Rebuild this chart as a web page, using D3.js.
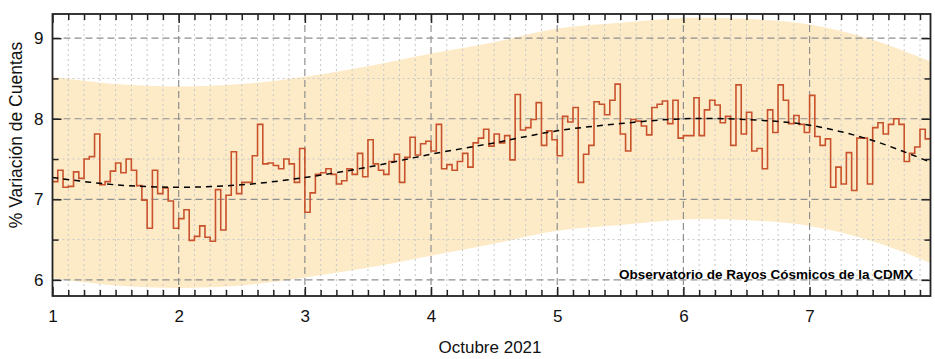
<!DOCTYPE html>
<html>
<head>
<meta charset="utf-8">
<script src="https://cdn.jsdelivr.net/npm/d3@7"></script>
<style>
  html, body { margin: 0; padding: 0; background: #fff; }
  svg { display: block; font-family: "Liberation Sans", Arial, sans-serif; }
</style>
</head>
<body>
<svg id="chart" width="935" height="359"></svg>
<script>
// ---- Data ----
const startDay = 1;            // Octubre 1, 00:00
const hoursPerDay = 24;
// hourly % variation of counts
const counts = [
  7.22,7.36,7.15,7.16,7.34,7.26,7.50,7.53,7.81,7.18,7.22,7.35,7.45,7.33,7.50,7.36,7.17,6.99,6.64,7.36,7.07,7.14,6.98,6.64,
  6.76,6.87,6.49,6.54,6.67,6.53,6.48,7.12,6.62,7.05,7.59,7.07,7.21,7.21,7.54,7.93,7.44,7.45,7.42,7.38,7.50,7.44,7.21,7.63,
  6.84,7.08,7.31,7.33,7.38,7.31,7.19,7.23,7.38,7.31,7.57,7.28,7.74,7.44,7.36,7.31,7.47,7.56,7.21,7.52,7.77,7.55,7.69,7.72,
  7.60,7.93,7.38,7.43,7.36,7.47,7.57,7.40,7.70,7.76,7.87,7.66,7.81,7.70,7.79,7.49,8.30,7.86,7.89,7.99,8.20,7.67,7.85,7.74,
  7.54,8.03,7.96,8.14,7.21,7.56,7.67,8.21,8.18,8.05,8.23,8.43,7.81,7.60,7.99,7.97,7.91,7.80,8.14,8.18,8.22,7.94,8.23,7.76,
  7.79,7.79,8.26,7.79,8.11,8.23,8.17,7.95,8.03,7.67,8.42,7.81,8.08,7.60,7.63,7.38,8.11,7.83,8.42,8.23,7.94,8.04,7.93,7.83,
  8.29,7.78,7.67,7.75,7.15,7.40,7.19,7.58,7.11,7.76,7.76,7.19,7.89,7.95,7.81,7.93,8.00,7.93,7.47,7.57,7.65,7.87,7.75,7.75
];
// smooth fit (dashed) and its band
const fitDays = [1, 1.5, 2, 2.5, 3, 3.5, 4, 4.5, 5, 5.5, 6, 6.5, 7, 7.5, 7.9583];
const fitValues = [7.27, 7.18, 7.15, 7.18, 7.27, 7.40, 7.56, 7.70, 7.85, 7.94, 8.00, 7.99, 7.92, 7.73, 7.46];
const bandUpper = [8.52, 8.43, 8.40, 8.43, 8.52, 8.65, 8.81, 8.95, 9.12, 9.19, 9.25, 9.24, 9.17, 8.98, 8.71];
const bandLower = [6.02, 5.93, 5.90, 5.93, 6.03, 6.15, 6.30, 6.45, 6.61, 6.68, 6.75, 6.74, 6.67, 6.48, 6.21];
const xTicks = [1, 2, 3, 4, 5, 6, 7];
const yTicks = [6, 7, 8, 9];
const xLabel = "Octubre 2021";
const yLabel = "% Variación de Cuentas";
const note = "Observatorio de Rayos Cósmicos de la CDMX";

// ---- Layout ----
const svg = d3.select("#chart");
const L = 52.5, R = 930.5, T = 14, B = 296;
const xEnd = startDay + (counts.length - 1) / hoursPerDay;
const x = d3.scaleLinear().domain([startDay, xEnd]).range([L, R]);
const y = d3.scaleLinear().domain([5.8, 9.3]).range([B, T]);

svg.append("defs").append("clipPath").attr("id", "clip")
  .append("rect").attr("x", L).attr("y", T).attr("width", R - L).attr("height", B - T);

const plot = svg.append("g").attr("clip-path", "url(#clip)");

// band
const bandData = fitDays.map((d, i) => ({ d, u: bandUpper[i], l: bandLower[i] }));
plot.append("path").datum(bandData)
  .attr("fill", "#fdebc8")
  .attr("d", d3.area().curve(d3.curveCatmullRom)
    .x(p => x(p.d)).y0(p => y(p.l)).y1(p => y(p.u)));

// minor grid
const minorX = d3.range(startDay * 8, Math.floor(xEnd * 8) + 1).map(v => v / 8).filter(v => v % 1 !== 0);
const minorY = [6.5, 7.5, 8.5];
const grid = plot.append("g");
grid.selectAll(".mx").data(minorX).join("line")
  .attr("x1", d => x(d)).attr("x2", d => x(d)).attr("y1", T).attr("y2", B)
  .attr("stroke", "#c8c8c8").attr("stroke-width", 1).attr("stroke-dasharray", "2,3");
grid.selectAll(".my").data(minorY).join("line")
  .attr("x1", L).attr("x2", R).attr("y1", d => y(d)).attr("y2", d => y(d))
  .attr("stroke", "#c8c8c8").attr("stroke-width", 1).attr("stroke-dasharray", "2,3");
// major grid
grid.selectAll(".Mx").data(xTicks.filter(d => d > startDay)).join("line")
  .attr("x1", d => x(d)).attr("x2", d => x(d)).attr("y1", T).attr("y2", B)
  .attr("stroke", "#8f8f8f").attr("stroke-width", 1.2).attr("stroke-dasharray", "7,4");
grid.selectAll(".My").data(yTicks).join("line")
  .attr("x1", L).attr("x2", R).attr("y1", d => y(d)).attr("y2", d => y(d))
  .attr("stroke", "#8f8f8f").attr("stroke-width", 1.2).attr("stroke-dasharray", "7,4");

// step series
const pts = counts.map((v, i) => [startDay + i / hoursPerDay, v]);
pts.push([startDay + counts.length / hoursPerDay, counts[counts.length - 1]]);
plot.append("path").datum(pts)
  .attr("fill", "none").attr("stroke", "#c8522c").attr("stroke-width", 1.6)
  .attr("d", d3.line().curve(d3.curveStepAfter).x(p => x(p[0])).y(p => y(p[1])));

// fit
plot.append("path").datum(fitDays.map((d, i) => [d, fitValues[i]]))
  .attr("fill", "none").attr("stroke", "#000").attr("stroke-width", 1.5)
  .attr("stroke-dasharray", "6,5")
  .attr("d", d3.line().curve(d3.curveCatmullRom).x(p => x(p[0])).y(p => y(p[1])));

// axes with inside ticks
const fmt = d3.format("d");
const axB = svg.append("g").attr("transform", `translate(0,${B})`)
  .call(d3.axisBottom(x).tickValues(xTicks).tickFormat(fmt).tickSize(-9).tickPadding(14));
const axBm = svg.append("g").attr("transform", `translate(0,${B})`)
  .call(d3.axisBottom(x).tickValues(minorX).tickFormat("").tickSize(-6));
const axT = svg.append("g").attr("transform", `translate(0,${T})`)
  .call(d3.axisTop(x).tickValues(xTicks).tickFormat("").tickSize(-9));
const axTm = svg.append("g").attr("transform", `translate(0,${T})`)
  .call(d3.axisTop(x).tickValues(minorX).tickFormat("").tickSize(-6));
const axL = svg.append("g").attr("transform", `translate(${L},0)`)
  .call(d3.axisLeft(y).tickValues(yTicks).tickFormat(fmt).tickSize(-9).tickPadding(9));
const axLm = svg.append("g").attr("transform", `translate(${L},0)`)
  .call(d3.axisLeft(y).tickValues(minorY).tickFormat("").tickSize(-6));
const axR = svg.append("g").attr("transform", `translate(${R},0)`)
  .call(d3.axisRight(y).tickValues(yTicks).tickFormat("").tickSize(-9));
const axRm = svg.append("g").attr("transform", `translate(${R},0)`)
  .call(d3.axisRight(y).tickValues(minorY).tickFormat("").tickSize(-6));
[axB, axBm, axT, axTm, axL, axLm, axR, axRm].forEach(a => {
  a.select(".domain").remove();
  a.selectAll(".tick line").attr("stroke", "#222").attr("stroke-width", 1.5);
  a.selectAll(".tick text").attr("font-size", 17).attr("fill", "#111")
    .attr("font-family", "'Liberation Sans', Arial, sans-serif");
});

// frame
svg.append("rect").attr("x", L).attr("y", T).attr("width", R - L).attr("height", B - T)
  .attr("fill", "none").attr("stroke", "#222").attr("stroke-width", 1.8);

// labels
svg.append("text").attr("x", 490).attr("y", 353).attr("text-anchor", "middle")
  .attr("font-size", 17).attr("fill", "#111").text(xLabel);
svg.append("text").attr("transform", "translate(22,135) rotate(-90)").attr("text-anchor", "middle")
  .attr("font-size", 17.5).attr("fill", "#111").text(yLabel);
svg.append("text").attr("x", 913).attr("y", 279).attr("text-anchor", "end")
  .attr("font-size", 13.5).attr("font-weight", "bold").attr("fill", "#000").text(note);
</script>
</body>
</html>
